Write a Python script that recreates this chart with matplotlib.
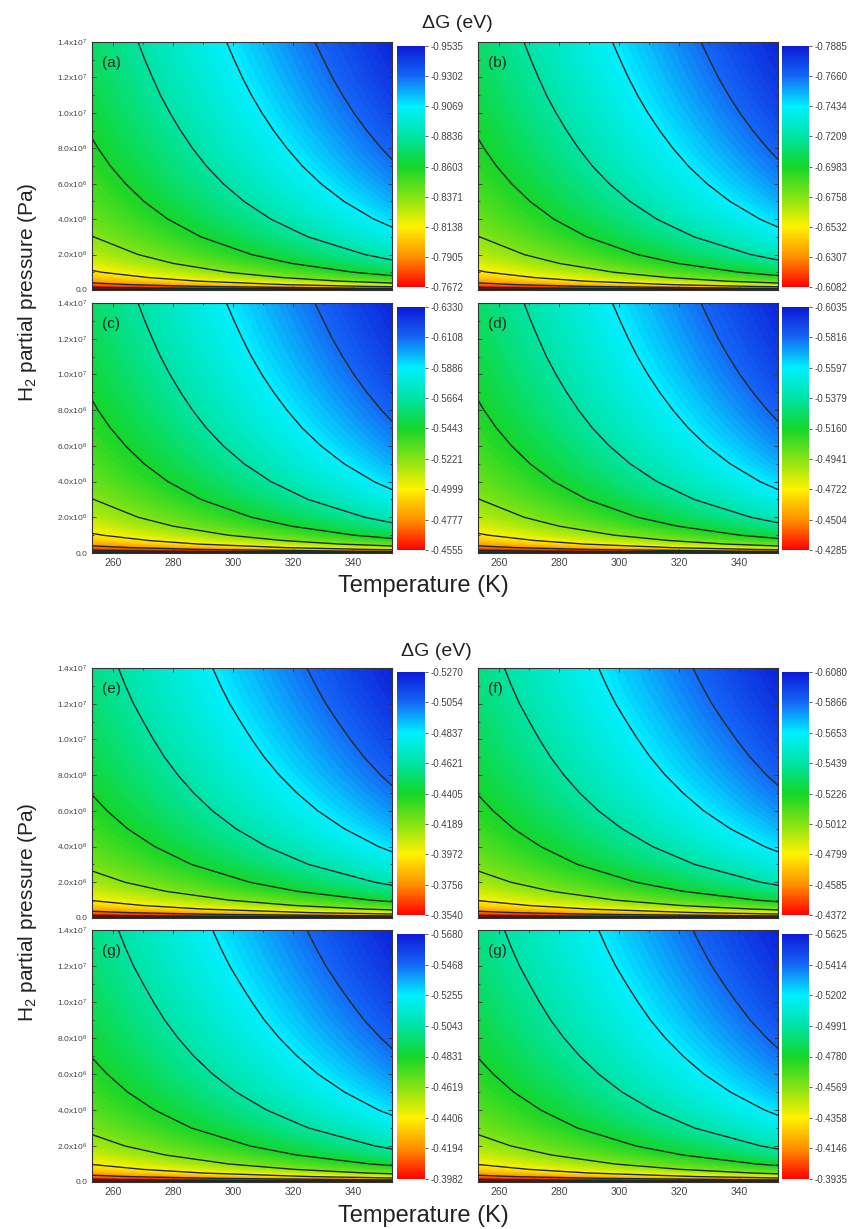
## Gibbs free energy contour maps, two groups of four panels

import numpy as np
import matplotlib
matplotlib.use('Agg')
import matplotlib.pyplot as plt
from matplotlib.colors import LinearSegmentedColormap, Normalize
from matplotlib.cm import ScalarMappable

plt.rcParams['font.family'] = ['Liberation Sans', 'DejaVu Sans']
plt.rcParams['mathtext.fontset'] = 'custom'
plt.rcParams['mathtext.rm'] = 'Liberation Sans'
plt.rcParams['mathtext.it'] = 'Liberation Sans:italic'

## Data
temps = [253, 353]  # K, left and right edge of every panel
pressures = [0, 1e4, 2e4, 5e4, 1e5, 2e5, 3e5, 5e5, 7e5, 1e6, 1.5e6, 2e6, 3e6, 4e6,
             5e6, 6e6, 7e6, 8e6, 9e6, 1e7, 1.1e7, 1.2e7, 1.3e7, 1.4e7]  # Pa

# fraction of the colour bar range (0 = red end, 1 = blue end)
u_upper_253 = [-0.60, -0.318, -0.234, -0.123, -0.039, 0.045, 0.094, 0.156, 0.197, 0.240, 0.289, 0.324,
               0.373, 0.408, 0.435, 0.457, 0.476, 0.492, 0.506, 0.519, 0.531, 0.541, 0.551, 0.560]
u_upper_353 = [-0.50, -0.241, -0.123, 0.031, 0.149, 0.266, 0.334, 0.421, 0.477, 0.538, 0.606, 0.655,
               0.723, 0.772, 0.810, 0.841, 0.867, 0.889, 0.909, 0.927, 0.943, 0.958, 0.971, 0.984]
u_lower_253 = [-0.62, -0.333, -0.245, -0.128, -0.040, 0.049, 0.100, 0.165, 0.208, 0.254, 0.305, 0.342,
               0.394, 0.430, 0.459, 0.482, 0.502, 0.519, 0.534, 0.547, 0.559, 0.571, 0.581, 0.590]
u_lower_353 = [-0.55, -0.300, -0.177, -0.014, 0.109, 0.232, 0.305, 0.395, 0.455, 0.519, 0.591, 0.642,
               0.714, 0.765, 0.805, 0.838, 0.865, 0.889, 0.910, 0.928, 0.945, 0.961, 0.975, 0.988]

line_fracs = [-0.375, -0.25, -0.125, 0.0, 0.125, 0.25, 0.375, 0.5, 0.625, 0.75, 0.875]

panel_labels = ['(a)', '(b)', '(c)', '(d)', '(e)', '(f)', '(g)', '(g)']

# colour bar ticks, top to bottom (eV)
cb_a = [-0.9535, -0.9302, -0.9069, -0.8836, -0.8603, -0.8371, -0.8138, -0.7905, -0.7672]
cb_b = [-0.7885, -0.7660, -0.7434, -0.7209, -0.6983, -0.6758, -0.6532, -0.6307, -0.6082]
cb_c = [-0.6330, -0.6108, -0.5886, -0.5664, -0.5443, -0.5221, -0.4999, -0.4777, -0.4555]
cb_d = [-0.6035, -0.5816, -0.5597, -0.5379, -0.5160, -0.4941, -0.4722, -0.4504, -0.4285]
cb_e = [-0.5270, -0.5054, -0.4837, -0.4621, -0.4405, -0.4189, -0.3972, -0.3756, -0.3540]
cb_f = [-0.6080, -0.5866, -0.5653, -0.5439, -0.5226, -0.5012, -0.4799, -0.4585, -0.4372]
cb_g = [-0.5680, -0.5468, -0.5255, -0.5043, -0.4831, -0.4619, -0.4406, -0.4194, -0.3982]
cb_h = [-0.5625, -0.5414, -0.5202, -0.4991, -0.4780, -0.4569, -0.4358, -0.4146, -0.3935]

x_ticks = [260, 280, 300, 320, 340]
y_ticks = [0, 2e6, 4e6, 6e6, 8e6, 1e7, 1.2e7, 1.4e7]
y_tick_labels = ['0.0', '2.0x10$^6$', '4.0x10$^6$', '6.0x10$^6$', '8.0x10$^6$',
                 '1.0x10$^7$', '1.2x10$^7$', '1.4x10$^7$']

## Colour map (blue -> cyan -> green -> yellow -> red)
cmap = LinearSegmentedColormap.from_list('rainbow_origin', [
    (0.00, '#0b1ad6'), (0.12, '#1463f5'), (0.25, '#00f0ff'), (0.38, '#00e3a0'),
    (0.50, '#14d62a'), (0.62, '#7fe314'), (0.75, '#fff200'), (0.88, '#ff8c00'),
    (1.00, '#ff0000')], N=512)
cmap.set_over('#e00000')

## Layout (pixels)
W, H = 860, 1229
fig = plt.figure(figsize=(W / 100, H / 100), dpi=100)

def box(x0, y0, x1, y1):
    return [x0 / W, 1 - y1 / H, (x1 - x0) / W, (y1 - y0) / H]

col_x = [(92, 392), (478, 778)]
cbar_x = [(397, 425), (782, 809)]
row_y = [(42, 290), (303, 553), (668, 918), (930, 1182)]

grids = [(u_upper_253, u_upper_353)] * 4 + [(u_lower_253, u_lower_353)] * 4
cb_all = [cb_a, cb_b, cb_c, cb_d, cb_e, cb_f, cb_g, cb_h]

for i in range(8):
    r, c = i // 2, i % 2
    ax = fig.add_axes(box(col_x[c][0], row_y[r][0], col_x[c][1], row_y[r][1]))
    ticks = cb_all[i]
    hi, lo = ticks[0], ticks[-1]  # hi = blue end (more negative), lo = red end
    u = np.column_stack(grids[i])
    dg = lo + u * (hi - lo)
    norm = Normalize(vmin=hi, vmax=lo)

    ax.contourf(temps, pressures, dg, levels=np.linspace(hi, lo, 96), cmap=cmap,
                norm=norm, extend='max', antialiased=False)
    line_levels = np.sort(lo + np.array(line_fracs) * (hi - lo))
    ax.contour(temps, pressures, dg, levels=line_levels, colors='#1c2a24',
               linewidths=1.0, linestyles='solid')

    ax.set_xlim(253, 353)
    ax.set_ylim(0, 1.4e7)
    ax.set_xticks(x_ticks)
    ax.set_xticks([270, 290, 310, 330, 350], minor=True)
    ax.set_yticks(y_ticks)
    ax.set_yticks(np.arange(1e6, 1.4e7, 2e6), minor=True)
    ax.tick_params(which='both', direction='in', top=True, right=True,
                   color='#333333', width=0.6)
    ax.tick_params(which='major', length=3)
    ax.tick_params(which='minor', length=1.5)
    if r in (1, 3):
        ax.set_xticklabels([str(t) for t in x_ticks], fontsize=7.5, color='#444444')
    else:
        ax.set_xticklabels([])
    if c == 0:
        ax.set_yticklabels(y_tick_labels, fontsize=6, color='#444444')
    else:
        ax.set_yticklabels([])
    for sp in ax.spines.values():
        sp.set_linewidth(0.8)
        sp.set_color('#333333')
    ax.text(0.033, 0.915, panel_labels[i], transform=ax.transAxes, fontsize=11,
            color='#1e2b22', ha='left', va='center')

    # colour bar
    cax = fig.add_axes(box(cbar_x[c][0], row_y[r][0] + 4, cbar_x[c][1], row_y[r][1] - 3))
    cb = fig.colorbar(ScalarMappable(norm=norm, cmap=cmap), cax=cax)
    cb.set_ticks(ticks)
    cb.set_ticklabels(['%.4f' % t for t in ticks])
    cb.ax.invert_yaxis()
    cb.outline.set_visible(False)
    cb.ax.tick_params(labelsize=7, colors='#444444', length=2, width=0.6, pad=2)

## Shared labels
fig.text(457 / W, 1 - 24 / H, 'ΔG (eV)', fontsize=14, ha='center', va='center', color='#222222')
fig.text(436 / W, 1 - 652 / H, 'ΔG (eV)', fontsize=14, ha='center', va='center', color='#222222')
fig.text(423 / W, 1 - 586 / H, 'Temperature (K)', fontsize=17, ha='center', va='center', color='#222222')
fig.text(423 / W, 1 - 1216 / H, 'Temperature (K)', fontsize=17, ha='center', va='center', color='#222222')
fig.text(28 / W, 1 - 292 / H, 'H$_2$ partial pressure (Pa)', fontsize=15, rotation=90,
         ha='center', va='center', color='#222222')
fig.text(28 / W, 1 - 912 / H, 'H$_2$ partial pressure (Pa)', fontsize=15, rotation=90,
         ha='center', va='center', color='#222222')

fig.savefig('out.png', dpi=100)
